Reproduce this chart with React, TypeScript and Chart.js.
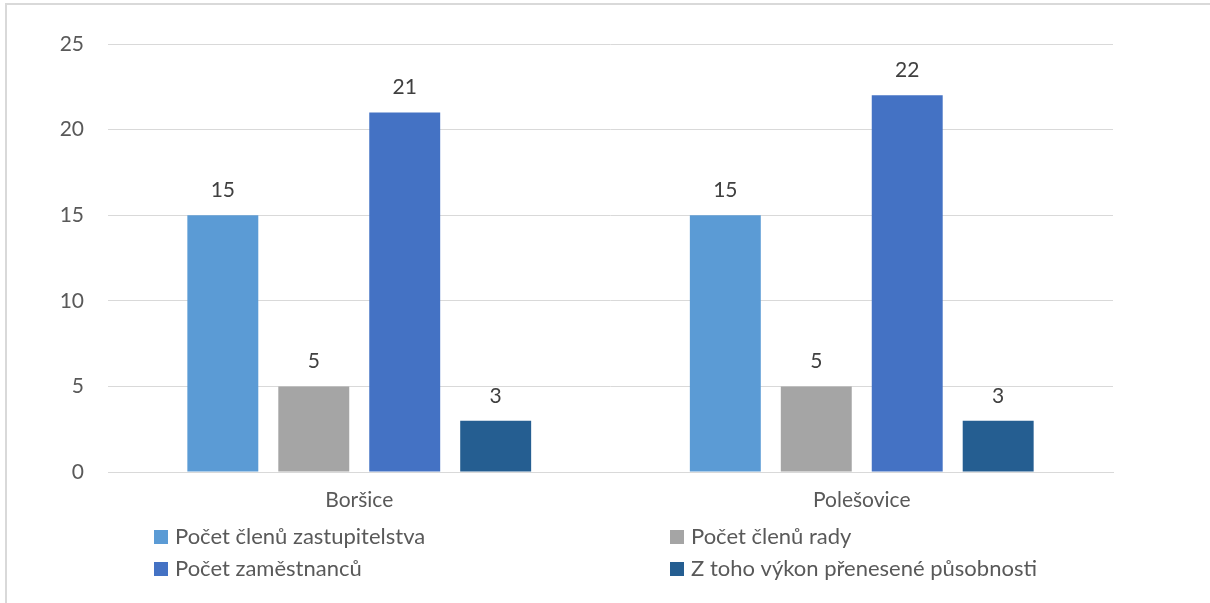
import React, { useEffect, useRef } from "react";
import { Chart, registerables } from "chart.js";

Chart.register(...registerables);

const categories = ["Boršice", "Polešovice"];
const seriesLabels = [
  "Počet členů zastupitelstva",
  "Počet členů rady",
  "Počet zaměstnanců",
  "Z toho výkon přenesené působnosti",
];
const zastupitelstvo = [15, 15];
const rada = [5, 5];
const zamestnanci = [21, 22];
const prenesena = [3, 3];
const colors = ["#5B9BD5", "#A5A5A5", "#4472C4", "#255E91"];
const yTicks = [0, 5, 10, 15, 20, 25];

const FONT = "Lato, 'Open Sans', sans-serif";

const frame = {
  id: "frame",
  beforeDraw(chart: any) {
    const { ctx } = chart;
    ctx.save();
    ctx.fillStyle = "#ffffff";
    ctx.fillRect(0, 0, chart.width, chart.height);
    ctx.strokeStyle = "#d9d9d9";
    ctx.lineWidth = 2;
    ctx.strokeRect(6, 4, chart.width + 20, chart.height + 20);
    ctx.restore();
  },
};

const valueLabels = {
  id: "valueLabels",
  afterDatasetsDraw(chart: any) {
    const { ctx } = chart;
    ctx.save();
    ctx.font = `21px ${FONT}`;
    ctx.fillStyle = "#404040";
    ctx.textAlign = "center";
    ctx.textBaseline = "alphabetic";
    chart.data.datasets.forEach((ds: any, i: number) => {
      const meta = chart.getDatasetMeta(i);
      meta.data.forEach((bar: any, j: number) => {
        ctx.fillText(String(ds.data[j]), bar.x, bar.y - 18);
      });
    });
    ctx.restore();
  },
};

const gridLegend = {
  id: "gridLegend",
  afterDraw(chart: any) {
    const { ctx } = chart;
    const colX = [154, 670];
    const rowY = [537, 569];
    ctx.save();
    ctx.font = `22px ${FONT}`;
    ctx.textBaseline = "middle";
    ctx.textAlign = "left";
    chart.data.datasets.forEach((ds: any, i: number) => {
      const x = colX[i % 2];
      const y = rowY[Math.floor(i / 2)];
      ctx.fillStyle = ds.backgroundColor;
      ctx.fillRect(x, y - 7, 14, 14);
      ctx.fillStyle = "#595959";
      ctx.fillText(ds.label, x + 21, y);
    });
    ctx.restore();
  },
};

export default function App() {
  const ref = useRef<HTMLCanvasElement>(null);
  useEffect(() => {
    document.body.style.margin = "0";
    const values = [zastupitelstvo, rada, zamestnanci, prenesena];
    const chart = new Chart(ref.current!, {
      type: "bar",
      data: {
        labels: categories,
        datasets: seriesLabels.map((label, i) => ({
          label,
          data: values[i],
          backgroundColor: colors[i],
          categoryPercentage: 0.724,
          barPercentage: 0.78,
        })),
      },
      options: {
        animation: false,
        responsive: false,
        layout: { padding: { left: 0, right: 97, top: 44, bottom: 81 } },
        plugins: { legend: { display: false }, tooltip: { enabled: false } },
        scales: {
          x: {
            grid: { display: false, drawTicks: false },
            border: { display: true, color: "#d9d9d9", width: 1 },
            ticks: { color: "#595959", font: { family: FONT, size: 21 }, padding: 16 },
            afterFit(scale: any) {
              scale.height = 50;
            },
          },
          y: {
            min: 0,
            max: 25,
            afterBuildTicks(scale: any) {
              scale.ticks = yTicks.map((v) => ({ value: v }));
            },
            grid: { color: "#d9d9d9", drawTicks: false },
            border: { display: false },
            ticks: { color: "#595959", font: { family: FONT, size: 21 }, padding: 24 },
            afterFit(scale: any) {
              scale.width = 108;
            },
          },
        },
      },
      plugins: [frame, valueLabels, gridLegend],
    });
    return () => chart.destroy();
  }, []);
  return <canvas ref={ref} width={1210} height={603} style={{ display: "block" }} />;
}
